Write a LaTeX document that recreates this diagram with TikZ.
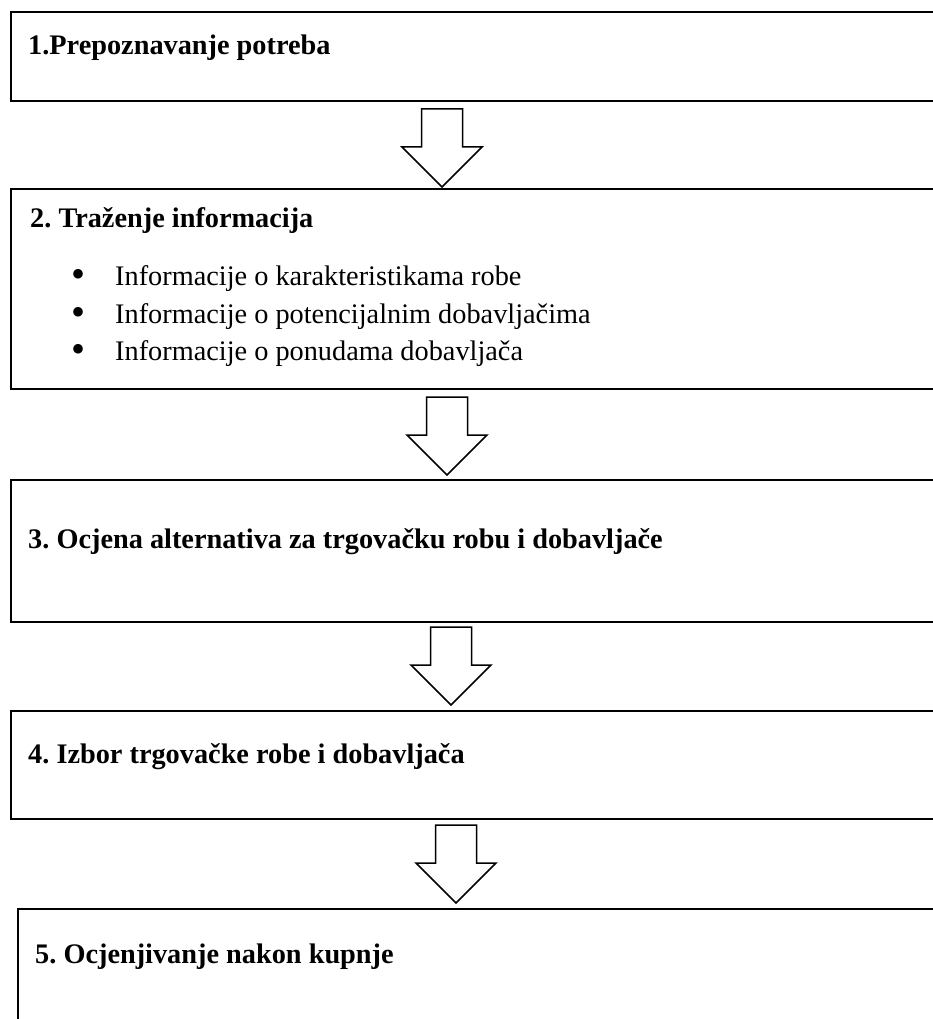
\documentclass[tikz,border=0pt]{standalone}
\usepackage{fontspec}
\setmainfont{Liberation Serif}
\frenchspacing
\begin{document}
\begin{tikzpicture}[x=1pt,y=-1pt,
  box/.style={draw=black, line width=2pt, rectangle, inner sep=0pt, anchor=north west},
  lbl/.style={anchor=base west, inner sep=0pt, font=\fontsize{28.3}{34}\selectfont\bfseries},
  itm/.style={anchor=base west, inner sep=0pt, font=\fontsize{28.3}{34}\selectfont},
  dot/.style={anchor=base west, inner sep=0pt, font=\fontsize{40}{40}\selectfont},
  blockarrow/.pic={\draw[line width=1.5pt, fill=white, line join=miter]
     (-20.5,0) -- (20.5,0) -- (20.5,38) -- (40,38) -- (0,78) -- (-40,38) -- (-20.5,38) -- cycle;}
]
\useasboundingbox (0,0) rectangle (933,1019);
% boxes
\node[box, minimum width=935pt, minimum height=89pt]  (b1) at (10,11) {};
\node[box, minimum width=935pt, minimum height=200pt] (b2) at (10,188) {};
\node[box, minimum width=935pt, minimum height=142pt] (b3) at (10,479) {};
\node[box, minimum width=935pt, minimum height=108pt] (b4) at (10,710) {};
\node[box, minimum width=928pt, minimum height=130pt] (b5) at (17,908) {};
% texts
\node[lbl] (t1) at (28,55) {1.Prepoznavanje potreba};
\node[lbl] (t2) at (30,227) {2. Traženje informacija};
\node[dot] (d1) at (71,287) {\textbullet};
\node[dot] (d2) at (71,325) {\textbullet};
\node[dot] (d3) at (71,362) {\textbullet};
\node[itm] (i1) at (115,285) {Informacije o karakteristikama robe};
\node[itm] (i2) at (115,323) {Informacije o potencijalnim dobavljačima};
\node[itm] (i3) at (115,360) {Informacije o ponudama dobavljača};
\node[lbl] (t3) at (28,548) {3. Ocjena alternativa za trgovačku robu i dobavljače};
\node[lbl] (t4) at (28,763) {4. Izbor trgovačke robe i dobavljača};
\node[lbl] (t5) at (35,963) {5. Ocjenjivanje nakon kupnje};
% block arrows
\pic (a1) at (442,109) {blockarrow};
\pic (a2) at (447,397) {blockarrow};
\pic (a3) at (451,627) {blockarrow};
\pic (a4) at (456,825) {blockarrow};
\end{tikzpicture}
\end{document}
